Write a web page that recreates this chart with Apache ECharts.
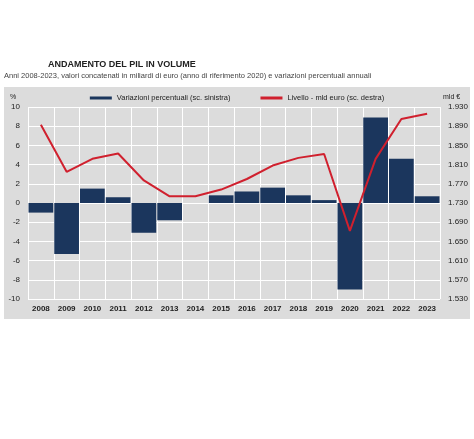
<!DOCTYPE html><html><head><meta charset="utf-8"><script src="https://cdn.jsdelivr.net/npm/echarts@6/dist/echarts.min.js"></script>
<style>body{margin:0;background:#fff}#c{width:474px;height:439px}</style></head><body><div id="c"></div><script>
const years=['2008','2009','2010','2011','2012','2013','2014','2015','2016','2017','2018','2019','2020','2021','2022','2023'];
const pct=[-1.0,-5.3,1.5,0.6,-3.1,-1.8,0.0,0.8,1.2,1.6,0.8,0.3,-9.0,8.9,4.6,0.7];
const level=[1893,1795,1822,1833,1777,1744,1744,1758,1780,1808,1824,1832,1672,1822,1905,1916];
const ch=echarts.init(document.getElementById('c'));
const fmt=v=>{let s=String(v);return s.length>3?s.slice(0,s.length-3)+'.'+s.slice(-3):s;};
const lbl={fontFamily:'Liberation Sans',fontSize:8,color:'#222'};
ch.setOption({
 graphic:[{type:'rect',shape:{x:4,y:87,width:466,height:232},style:{fill:'#dcdcdc'},z:-10},
  {type:'text',left:48,top:60,style:{text:'ANDAMENTO DEL PIL IN VOLUME',font:'bold 9px Liberation Sans',fill:'#222'}},
  {type:'text',left:4,top:72,style:{text:'Anni 2008-2023, valori concatenati in miliardi di euro (anno di riferimento 2020) e variazioni percentuali annuali',font:'7.5px Liberation Sans',fill:'#444'}},
  {type:'text',left:10,top:94,style:{text:'%',font:'7px Liberation Sans',fill:'#222'}},
  {type:'text',left:443,top:94,style:{text:'mld €',font:'7px Liberation Sans',fill:'#222'}}],
 legend:{top:89,left:'center',itemWidth:22,itemHeight:3,itemGap:30,textStyle:{fontFamily:'Liberation Sans',fontSize:7.5,color:'#222'},
  data:[{name:'Variazioni percentuali (sc. sinistra)',icon:'rect'},{name:'Livello - mld euro (sc. destra)',icon:'rect'}]},
 grid:{left:28,right:34,top:107,bottom:140},
 xAxis:{type:'category',data:years,axisTick:{show:false},axisLine:{show:false},
  splitLine:{show:true,interval:0,lineStyle:{color:'#fff',width:1}},
  axisLabel:Object.assign({},lbl,{fontWeight:'bold',interval:0,margin:6})},
 yAxis:[{type:'value',min:-10,max:10,interval:2,axisLabel:lbl,splitLine:{lineStyle:{color:'#fff'}},axisLine:{show:false},axisTick:{show:false}},
  {type:'value',min:1530,max:1930,interval:40,axisLabel:Object.assign({},lbl,{formatter:fmt}),splitLine:{show:false},axisLine:{show:false},axisTick:{show:false}}],
 series:[{name:'Variazioni percentuali (sc. sinistra)',type:'bar',data:pct,barCategoryGap:'4%',itemStyle:{color:'#1b365d'}},
  {name:'Livello - mld euro (sc. destra)',type:'line',yAxisIndex:1,data:level,symbol:'none',lineStyle:{color:'#d0202e',width:2},itemStyle:{color:'#d0202e'}}]
});
</script></body></html>
